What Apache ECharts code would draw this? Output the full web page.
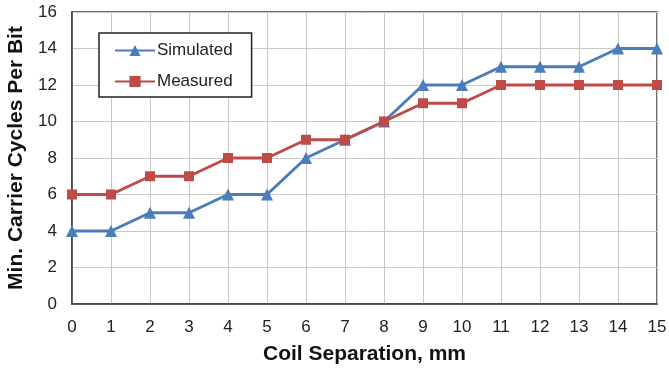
<!DOCTYPE html>
<html><head><meta charset="utf-8">
<script src="https://cdn.jsdelivr.net/npm/echarts@6/dist/echarts.min.js"></script>
<style>html,body{margin:0;padding:0;background:#fff}#c{width:669px;height:373px}</style>
</head><body><div id="c"></div>
<script>
const categories = ['0','1','2','3','4','5','6','7','8','9','10','11','12','13','14','15'];
const simulated = [4,4,5,5,6,6,8,9,10,12,12,13,13,13,14,14];
const measured = [6,6,7,7,8,8,9,9,10,11,11,12,12,12,12,12];
const yTicks = [0,2,4,6,8,10,12,14,16];

const chart = echarts.init(document.getElementById('c'), null, {renderer:'canvas'});
const font = 'Liberation Sans, Arial, sans-serif';
chart.setOption({
  animation:false,
  grid:{left:72,right:12,top:12,bottom:69,show:true,borderColor:'#404040',borderWidth:1.5,outerBoundsMode:'none',containLabel:false},
  legend:{
    orient:'vertical', left:99, top:33,
    backgroundColor:'#fff', borderColor:'#222', borderWidth:1.5,
    padding:[9,19,7,15], itemGap:14, itemWidth:40, itemHeight:14,
    textStyle:{fontFamily:font,fontSize:17,color:'#222',padding:[0,0,0,-3]},
    data:['Simulated','Measured']
  },
  xAxis:{
    type:'category', data:categories, boundaryGap:false,
    name:'Coil Separation, mm', nameLocation:'middle', nameGap:40,
    nameTextStyle:{fontFamily:font,fontSize:21,fontWeight:'bold',color:'#111'},
    axisLine:{lineStyle:{color:'#404040',width:1.5}},
    axisTick:{show:false},
    axisLabel:{fontFamily:font,fontSize:17,color:'#222',margin:15},
    splitLine:{show:true,lineStyle:{color:'#c8c8c8',width:1}}
  },
  yAxis:{
    type:'value', min:yTicks[0], max:yTicks[yTicks.length-1], interval:2,
    name:'Min. Carrier Cycles Per Bit', nameLocation:'middle', nameGap:43,
    nameTextStyle:{fontFamily:font,fontSize:21,fontWeight:'bold',color:'#111'},
    axisLine:{show:true,lineStyle:{color:'#404040',width:1.5}},
    axisTick:{show:false},
    axisLabel:{fontFamily:font,fontSize:17,color:'#222',margin:15},
    splitLine:{show:true,lineStyle:{color:'#c8c8c8',width:1}}
  },
  series:[
    {name:'Simulated',type:'line',data:simulated,symbol:'triangle',symbolSize:12,
     lineStyle:{color:'#4A7EBB',width:3},itemStyle:{color:'#4A7EBB'}},
    {name:'Measured',type:'line',data:measured,symbol:'rect',symbolSize:10,
     lineStyle:{color:'#BE4B48',width:3},itemStyle:{color:'#BE4B48'}}
  ]
});
</script></body></html>
